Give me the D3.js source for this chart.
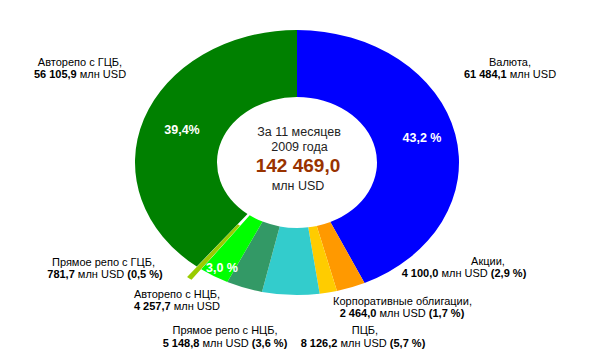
<!DOCTYPE html>
<html><head><meta charset="utf-8">
<script src="https://d3js.org/d3.v7.min.js"></script>
<style>
html,body{margin:0;padding:0;background:#fff;}
svg{display:block;font-family:"Liberation Sans",Arial,sans-serif;}
</style></head>
<body>
<svg id="chart" width="598" height="355"></svg>
<script>
// ---- data ----
const categories = ["Валюта", "Акции", "Корпоративные облигации", "ПЦБ", "Прямое репо с НЦБ", "Авторепо с НЦБ", "Прямое репо с ГЦБ", "Авторепо с ГЦБ"];
const values = [61484.1, 4100.0, 2464.0, 8126.2, 5148.8, 4257.7, 781.7, 56105.9];
const valueLabels = ["61 484,1", "4 100,0", "2 464,0", "8 126,2", "5 148,8", "4 257,7", "781,7", "56 105,9"];
const shareLabels = ["", "(2,9 %)", "(1,7 %)", "(5,7 %)", "(3,6 %)", "", "(0,5 %)", ""];
const insideLabels = ["43,2 %", "", "", "", "", "3,0 %", "", "39,4%"];
const exploded = [false, false, false, false, false, false, true, false];
const centerLines = ["За 11 месяцев", "2009 года"];
const totalLabel = "142 469,0";
const unitLabel = "млн USD";
const colors = ["#0000FF", "#FF9900", "#FFCC00", "#33CCCC", "#339966", "#00FF00", "#99CC00", "#008000"];

// ---- layout ----
const cx = 297, cy = 162.5, R = 162, r = 80, yScale = 0.818;
const outerLabelPos = [
  [[510, 62], [510, 74.5]],
  [[488, 261], [464, 273.5]],
  [[402.5, 301], [402, 313]],
  [[365, 330.5], [363, 343]],
  [[225, 330.5], [225, 343]],
  [[177, 294], [177, 306.5]],
  [[103.5, 262], [105, 274]],
  [[80, 62], [80, 74]]
];
const insideLabelPos = [[422, 137], null, null, null, null, [222, 267], null, [182, 129]];

const svg = d3.select("#chart");
const pie = d3.pie().sort(null).value(d => d).startAngle(0).endAngle(2 * Math.PI);
const arcs = pie(values);
const arc = d3.arc().innerRadius(r).outerRadius(R);

const g = svg.append("g").attr("transform", `translate(${cx},${cy}) scale(1,${yScale})`);
g.selectAll("path").data(arcs).join("path")
  .attr("d", arc)
  .attr("fill", (d, i) => colors[i])
  .attr("transform", (d, i) => {
    if (!exploded[i]) return null;
    const a = (d.startAngle + d.endAngle) / 2, off = 16;
    return `translate(${Math.sin(a) * off},${-Math.cos(a) * off})`;
  });

// inside percentage labels
svg.append("g").selectAll("text").data(arcs.filter((d, i) => insideLabels[i]))
  .join("text")
  .attr("x", d => insideLabelPos[d.index][0])
  .attr("y", d => insideLabelPos[d.index][1])
  .attr("dy", "0.36em")
  .attr("text-anchor", "middle")
  .attr("fill", "#fff").attr("font-weight", "bold").attr("font-size", 12.5)
  .text(d => insideLabels[d.index]);

// outer labels
const lg = svg.append("g").attr("font-size", 11).attr("fill", "#000");
categories.forEach((c, i) => {
  const p = outerLabelPos[i];
  lg.append("text").attr("x", p[0][0]).attr("y", p[0][1]).attr("dy", "0.36em")
    .attr("text-anchor", "middle").text(c + ",");
  const t = lg.append("text").attr("x", p[1][0]).attr("y", p[1][1]).attr("dy", "0.36em")
    .attr("text-anchor", "middle");
  t.append("tspan").attr("font-weight", "bold").text(valueLabels[i]);
  t.append("tspan").text(" " + unitLabel + (shareLabels[i] ? " " : ""));
  if (shareLabels[i]) t.append("tspan").attr("font-weight", "bold").text(shareLabels[i]);
});

// centre text
const cg = svg.append("g").attr("text-anchor", "middle");
cg.append("text").attr("x", 299).attr("y", 131.5).attr("dy", "0.36em").attr("font-size", 12.5).attr("fill", "#222").text(centerLines[0]);
cg.append("text").attr("x", 299.5).attr("y", 146.5).attr("dy", "0.36em").attr("font-size", 12.5).attr("fill", "#222").text(centerLines[1]);
cg.append("text").attr("x", 298).attr("y", 165).attr("dy", "0.36em").attr("font-size", 19).attr("font-weight", "bold").attr("fill", "#993300").text(totalLabel);
cg.append("text").attr("x", 298).attr("y", 185).attr("dy", "0.36em").attr("font-size", 12.5).attr("fill", "#222").text(unitLabel);
</script>
</body></html>
